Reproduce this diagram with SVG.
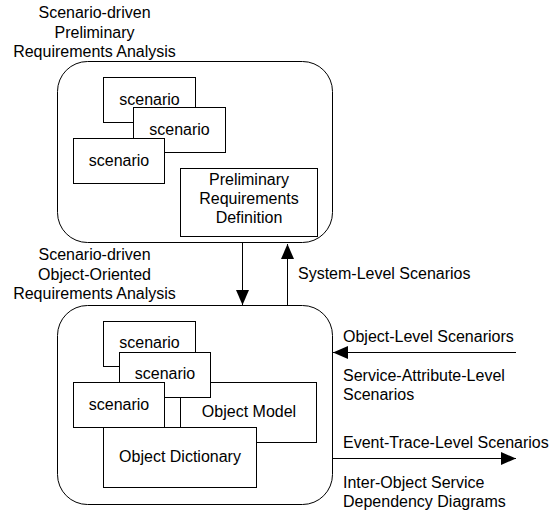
<svg xmlns="http://www.w3.org/2000/svg" width="550" height="515" viewBox="0 0 550 515">
  <style>
    text { font-family: "Liberation Sans", Arial, sans-serif; font-size: 16px; fill: #000; }
    .mid { text-anchor: middle; }
    .phase { fill: #fff; stroke: #000; stroke-width: 1; }
    .box { fill: #fff; stroke: #000; stroke-width: 1; }
    .conn { fill: none; stroke: #000; stroke-width: 1; }
  </style>
  <defs>
    <marker id="arrow" markerUnits="userSpaceOnUse" markerWidth="15" markerHeight="13" refX="15" refY="6.5" orient="auto">
      <path d="M0,0 L15,6.5 L0,13 Z" fill="#000"/>
    </marker>
  </defs>
  <rect width="550" height="515" fill="#fff"/>

  <!-- Phase 1: preliminary requirements analysis -->
  <g id="preliminary-analysis">
    <text class="mid" x="94.5" y="18">Scenario-driven</text>
    <text class="mid" x="94.5" y="38">Preliminary</text>
    <text class="mid" x="94.5" y="57">Requirements Analysis</text>
    <rect class="phase" x="57.5" y="61.5" width="275" height="181" rx="30" ry="30"/>
  </g>
  <g id="pre-scenario-1">
    <rect class="box" x="103.5" y="77.5" width="92" height="45"/>
    <text class="mid" x="149.5" y="105">scenario</text>
  </g>
  <g id="pre-scenario-2">
    <rect class="box" x="133.5" y="107.5" width="92" height="45"/>
    <text class="mid" x="179.5" y="135">scenario</text>
  </g>
  <g id="pre-scenario-3">
    <rect class="box" x="73.5" y="138.5" width="91" height="45"/>
    <text class="mid" x="119" y="166">scenario</text>
  </g>
  <g id="preliminary-definition">
    <rect class="box" x="180.5" y="168.5" width="137" height="68"/>
    <text class="mid" x="249" y="185">Preliminary</text>
    <text class="mid" x="249" y="204">Requirements</text>
    <text class="mid" x="249" y="223">Definition</text>
  </g>

  <!-- Phase 2: object-oriented requirements analysis -->
  <g id="oo-analysis">
    <text class="mid" x="94.5" y="260">Scenario-driven</text>
    <text class="mid" x="94.5" y="280">Object-Oriented</text>
    <text class="mid" x="94.5" y="299">Requirements Analysis</text>
    <rect class="phase" x="57.5" y="305.5" width="275" height="199" rx="30" ry="30"/>
  </g>
  <g id="object-model">
    <rect class="box" x="180.5" y="382.5" width="136" height="60"/>
    <text class="mid" x="249" y="417">Object Model</text>
  </g>
  <g id="oo-scenario-1">
    <rect class="box" x="103.5" y="321.5" width="92" height="45"/>
    <text class="mid" x="149.5" y="348">scenario</text>
  </g>
  <g id="oo-scenario-2">
    <rect class="box" x="119.5" y="352.5" width="91" height="45"/>
    <text class="mid" x="165" y="379">scenario</text>
  </g>
  <g id="oo-scenario-3">
    <rect class="box" x="73.5" y="382.5" width="91" height="45"/>
    <text class="mid" x="119" y="410">scenario</text>
  </g>
  <g id="object-dictionary">
    <rect class="box" x="103.5" y="427.5" width="153" height="60"/>
    <text class="mid" x="180" y="462">Object Dictionary</text>
  </g>

  <!-- Flows between phases and to/from outside -->
  <g id="connectors">
    <line class="conn" x1="242.5" y1="243" x2="242.5" y2="305" marker-end="url(#arrow)"/>
    <line class="conn" x1="287.5" y1="305" x2="287.5" y2="244" marker-end="url(#arrow)"/>
    <text x="298" y="279">System-Level Scenarios</text>
    <line class="conn" x1="516" y1="352.5" x2="333" y2="352.5" marker-end="url(#arrow)"/>
    <text x="343" y="342">Object-Level Scenariors</text>
    <text x="343" y="381">Service-Attribute-Level</text>
    <text x="343" y="400">Scenarios</text>
    <line class="conn" x1="333" y1="458.5" x2="516" y2="458.5" marker-end="url(#arrow)"/>
    <text x="343" y="448">Event-Trace-Level Scenarios</text>
    <text x="343" y="488">Inter-Object Service</text>
    <text x="343" y="507">Dependency Diagrams</text>
  </g>
</svg>
